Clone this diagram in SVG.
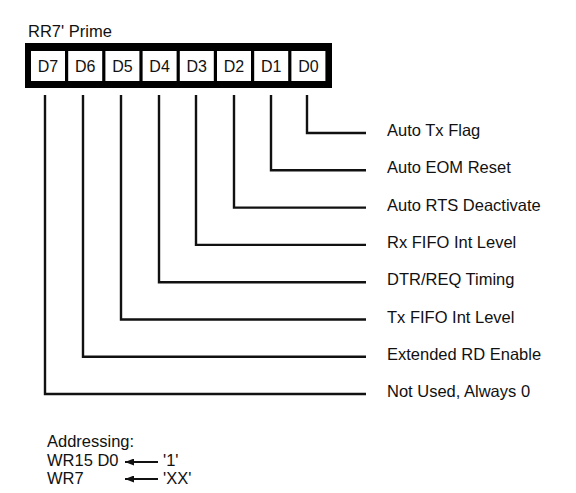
<svg xmlns="http://www.w3.org/2000/svg" width="576" height="493" viewBox="0 0 576 493">
  <defs>
    <style>
      text { font-family: "Liberation Sans", Arial, sans-serif; font-size: 16.5px; fill: #111; }
      .cell { fill: #fff; }
      .bit { text-anchor: middle; font-size: 16px; }
      .conn { fill: none; stroke: #111; stroke-width: 2.4; stroke-linejoin: miter; }
      .arr { fill: none; stroke: #111; stroke-width: 2; }
    </style>
    <marker id="ah" markerWidth="9" markerHeight="7" refX="0" refY="3.5" orient="auto" markerUnits="userSpaceOnUse">
      <path d="M9,0 L0,3.5 L9,7 Z" fill="#111"/>
    </marker>
  </defs>
  <rect width="576" height="493" fill="#fff"/>

  <text x="28" y="37">RR7' Prime</text>

  <g id="register">
    <rect x="25" y="43" width="307" height="45" fill="#000"/>
    <rect class="cell" x="31" y="51" width="34" height="30"/>
    <rect class="cell" x="68.2" y="51" width="34" height="30"/>
    <rect class="cell" x="105.4" y="51" width="34" height="30"/>
    <rect class="cell" x="142.6" y="51" width="34" height="30"/>
    <rect class="cell" x="179.8" y="51" width="34" height="30"/>
    <rect class="cell" x="217" y="51" width="34" height="30"/>
    <rect class="cell" x="254.2" y="51" width="34" height="30"/>
    <rect class="cell" x="291.4" y="51" width="34" height="30"/>
    <text class="bit" x="48" y="72">D7</text>
    <text class="bit" x="85.2" y="72">D6</text>
    <text class="bit" x="122.4" y="72">D5</text>
    <text class="bit" x="159.6" y="72">D4</text>
    <text class="bit" x="196.8" y="72">D3</text>
    <text class="bit" x="234" y="72">D2</text>
    <text class="bit" x="271.2" y="72">D1</text>
    <text class="bit" x="308.4" y="72">D0</text>
  </g>

  <g id="connectors">
    <polyline class="conn" points="307,95 307,133 366,133"/>
    <polyline class="conn" points="271,95 271,170.3 366,170.3"/>
    <polyline class="conn" points="234,95 234,207.6 366,207.6"/>
    <polyline class="conn" points="196,95 196,244.9 366,244.9"/>
    <polyline class="conn" points="159,95 159,282.2 366,282.2"/>
    <polyline class="conn" points="121,95 121,319.5 366,319.5"/>
    <polyline class="conn" points="83,95 83,356.8 366,356.8"/>
    <polyline class="conn" points="45,95 45,394 366,394"/>
  </g>

  <g id="field-d0"><text x="387" y="136">Auto Tx Flag</text></g>
  <g id="field-d1"><text x="387" y="173.3">Auto EOM Reset</text></g>
  <g id="field-d2"><text x="387" y="210.6">Auto RTS Deactivate</text></g>
  <g id="field-d3"><text x="387" y="247.9">Rx FIFO Int Level</text></g>
  <g id="field-d4"><text x="387" y="285.2">DTR/REQ Timing</text></g>
  <g id="field-d5"><text x="387" y="322.5">Tx FIFO Int Level</text></g>
  <g id="field-d6"><text x="387" y="359.8">Extended RD Enable</text></g>
  <g id="field-d7"><text x="387" y="397">Not Used, Always 0</text></g>

  <g id="addressing">
    <text x="47" y="447">Addressing:</text>
    <text x="47" y="466">WR15 D0</text>
    <text x="47" y="484">WR7</text>
    <line class="arr" x1="125" y1="462" x2="158" y2="462" marker-start="url(#ah)"/>
    <line class="arr" x1="125" y1="479" x2="158" y2="479" marker-start="url(#ah)"/>
    <text x="163" y="466">'1'</text>
    <text x="163" y="484">'XX'</text>
  </g>
</svg>
